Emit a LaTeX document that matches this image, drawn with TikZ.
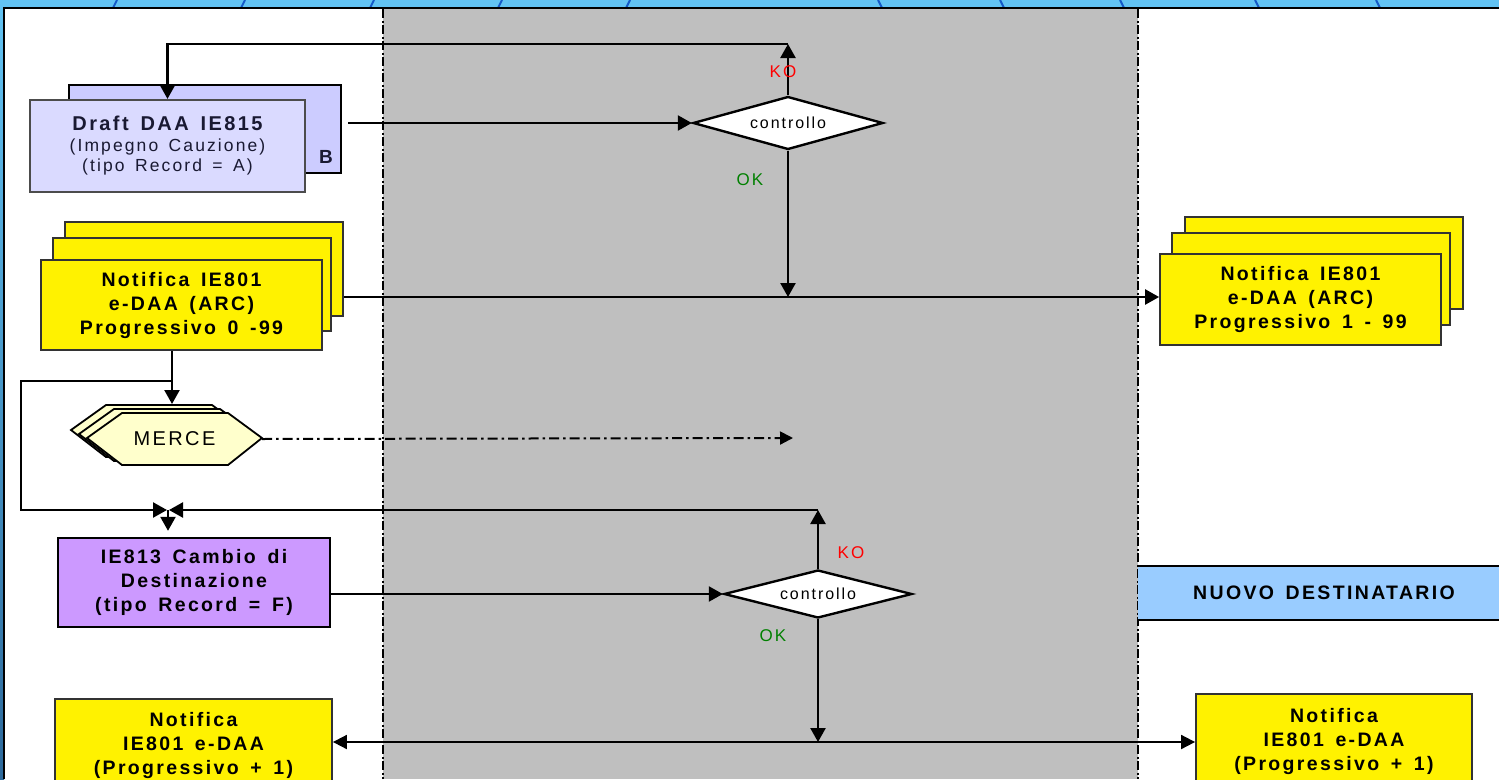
\documentclass[tikz,border=0pt]{standalone}
\usepackage{fontspec}
\setmainfont{Liberation Sans}
\newfontfamily\lsf[LetterSpace=12,WordSpace=1.5]{Liberation Sans}
\usetikzlibrary{arrows.meta,shapes.geometric}
\definecolor{skyb}{RGB}{98,195,243}
\definecolor{darkb}{RGB}{20,90,200}
\definecolor{edgeb}{RGB}{45,105,155}
\definecolor{bandgray}{RGB}{191,191,191}
\definecolor{lavfront}{RGB}{218,218,255}
\definecolor{lavback}{RGB}{204,204,255}
\definecolor{purp}{RGB}{204,153,255}
\definecolor{nuovo}{RGB}{153,204,255}
\definecolor{merceY}{RGB}{255,255,204}
\definecolor{okg}{RGB}{0,128,0}
\definecolor{navytext}{RGB}{25,25,50}
\tikzset{
  arr/.style={line width=2.4pt, -{Triangle[length=14pt,width=15pt]}},
  thinarr/.style={line width=1.8pt, -{Triangle[length=14pt,width=14pt]}},
  sep/.style={line width=1.4pt, dash pattern=on 9pt off 2.5pt on 2pt off 2.5pt},
  dotarr/.style={line width=2pt, dash pattern=on 10pt off 4pt on 2.5pt off 4pt, -{Triangle[length=13pt,width=13pt]}},
  ybox/.style={draw=black!80, line width=1.8pt, fill=yellow, inner sep=0pt, align=center,
    font=\lsf\bfseries\fontsize{19.5}{24}\selectfont},
  dia/.style={diamond, draw=black, line width=2.4pt, fill=white, inner sep=0pt, aspect=3.6,
    font=\lsf\fontsize{16}{18}\selectfont},
  kolab/.style={text=red, font=\lsf\fontsize{17}{18}\selectfont, inner sep=0pt},
  oklab/.style={text=okg, font=\lsf\fontsize{17}{18}\selectfont, inner sep=0pt},
  hexa/.style={draw=black, line width=1.8pt, fill=merceY, line join=miter},
}
\begin{document}
\begin{tikzpicture}[x=1pt,y=-1pt]
\useasboundingbox (0,0) rectangle (1499,779);
\clip (0,0) rectangle (1499,779);
% slide background
\fill[skyb] (0,0) rectangle (1499,779);
\shade[top color=skyb, bottom color=edgeb] (0,0) rectangle (4,779);
\foreach \xx in {115,243,372,500,628} \draw[darkb, line width=2pt] (\xx-2,8) -- (\xx+2,0);
\foreach \xx in {880,1002,1122,1257,1378} \draw[darkb, line width=2pt] (\xx-2,0) -- (\xx+2,8);
\fill[white] (5,9) rectangle (1499,779);
\draw[black, line width=2.4pt] (4,779) -- (4,8) -- (1499,8);
% central gray band
\fill[bandgray] (383,9) rectangle (1138,779);
\draw[sep] (383,9) -- (383,779);
\draw[sep] (1138,9) -- (1138,779);

% Draft DAA boxes
\node[draw=black, line width=2.8pt, fill=lavback, minimum width=272pt, minimum height=88pt, inner sep=0pt] (db) at (205,129) {};
\node[font=\lsf\bfseries\fontsize{19}{20}\selectfont, text=navytext, inner sep=0pt] (bb) at (326,157) {B};
\node[draw=black!70, line width=2.2pt, fill=lavfront, minimum width=275pt, minimum height=92pt, inner sep=0pt,
  align=center, text=navytext, font=\lsf\fontsize{17.5}{20.5}\selectfont] (df) at (167.5,146)
  {{\bfseries\fontsize{20}{20.5}\selectfont Draft DAA IE815}\\(Impegno Cauzione)\\(tipo Record = A)};

% controllo 1
\node[dia, minimum width=190pt, minimum height=53pt] (d1) at (788,123) {controllo};
\coordinate (c1) at ([xshift=6pt]db.east);
\draw[arr] (c1 |- d1.west) -- (d1.west);
\coordinate (ko1) at (788,44);
\draw[arr] (d1.north) -- (ko1);
\draw[arr] (ko1) -| (df.north);
\node[kolab] (ko1l) at (783,72) {KO};
\node[oklab] (ok1l) at (750,180) {OK};
\coordinate (j1) at (788,297);
\draw[arr] (d1.south) -- (j1);

% Notifica stacks
\node[ybox, minimum width=278pt, minimum height=94pt] (nb3) at (204,269) {};
\node[ybox, minimum width=278pt, minimum height=93pt] (nb2) at (192,284.5) {};
\node[ybox, minimum width=281pt, minimum height=90pt] (nf) at (181.5,305) {Notifica IE801\\e-DAA (ARC)\\Progressivo 0 -99};
\node[ybox, minimum width=278pt, minimum height=92pt] (nr3) at (1324,263) {};
\node[ybox, minimum width=278pt, minimum height=92pt] (nr2) at (1311,279) {};
\node[ybox, minimum width=281pt, minimum height=91pt] (nr) at (1300.5,299.5) {Notifica IE801\\e-DAA (ARC)\\Progressivo 1 - 99};
\draw[arr] (nb3.east |- j1) -- (nr.west |- j1);

% MERCE
\foreach \s in {16,8,0}
  \draw[hexa, shift={(-\s,-\s/2)}] (87,438) -- (122,413) -- (228,413) -- (262,438) -- (228,465) -- (122,465) -- cycle;
\node[minimum width=175pt, minimum height=52pt, inner sep=0pt, font=\lsf\fontsize{20}{22}\selectfont] (merce) at (174.5,439) {MERCE};
\coordinate (mt) at (172,404);
\draw[arr] ([xshift=-9.5pt]nf.south) -- (mt);
\coordinate (mend) at (793,438);
\draw[dotarr] (merce.east) -- (mend);

% IE813
\node[draw=black, line width=2.4pt, fill=purp, minimum width=272pt, minimum height=89pt, inner sep=0pt,
  align=center, font=\lsf\bfseries\fontsize{19.5}{24}\selectfont] (ie) at (194,582.5)
  {IE813 Cambio di\\Destinazione\\(tipo Record = F)};

% junction above IE813
\coordinate (jt) at (172,381);
\coordinate (jl) at (21,510);
\coordinate (jn) at (168,510);
\draw[arr, shorten >=1pt] (jt) -| (jl) -- (jn);

% controllo 2
\node[dia, minimum width=188pt, minimum height=48pt] (d2) at (818,594) {controllo};
\draw[arr] (ie.east |- d2.west) -- (d2.west);
\coordinate (ko2) at (818,510);
\draw[arr] (d2.north) -- (ko2);
\draw[arr, shorten >=1pt] (ko2) -- (jn);
\draw[arr, shorten >=6pt] (jn) -- (jn |- ie.north);
\node[kolab] (ko2l) at (851,553) {KO};
\node[oklab] (ok2l) at (773,636) {OK};
\coordinate (j2) at (818,742);
\draw[arr] (d2.south) -- (j2);

% NUOVO DESTINATARIO band
\node[fill=nuovo, minimum width=372pt, minimum height=54pt, inner sep=0pt,
  font=\lsf\bfseries\fontsize{19.5}{20}\selectfont] (nd) at (1324,593) {NUOVO DESTINATARIO};
\draw[line width=2.4pt] (1138,566) -- (1499,566);
\draw[line width=2.4pt] (1138,620) -- (1499,620);

% bottom notifications
\node[ybox, minimum width=277pt, minimum height=92pt] (bl) at (193.5,745) {Notifica\\IE801 e-DAA\\(Progressivo + 1)};
\node[ybox, minimum width=276pt, minimum height=94pt] (br) at (1334,741) {Notifica\\IE801 e-DAA\\(Progressivo + 1)};
\draw[thinarr] (j2) -- (bl.east |- j2);
\draw[thinarr] (j2) -- (br.west |- j2);
\end{tikzpicture}
\end{document}
